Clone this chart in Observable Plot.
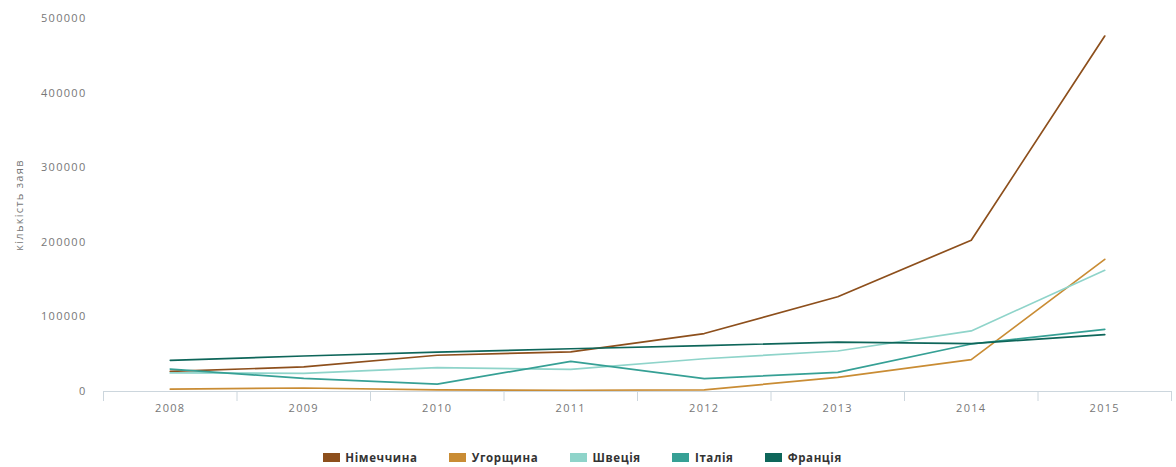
<!DOCTYPE html>
<html>
<head>
<meta charset="utf-8">
<script src="https://cdn.jsdelivr.net/npm/d3@7"></script>
<script src="https://cdn.jsdelivr.net/npm/@observablehq/plot@0.6"></script>
<style>
  html, body { margin: 0; padding: 0; background: #fff; }
  body { width: 1176px; height: 467px; overflow: hidden; font-family: "Open Sans", sans-serif; }
  #chart svg { display: block; }
</style>
</head>
<body>
<div id="chart"></div>
<script>
const years = [2008, 2009, 2010, 2011, 2012, 2013, 2014, 2015];
const countries = ["Німеччина", "Угорщина", "Швеція", "Італія", "Франція"];
const colors = ["#8d4f1c", "#c98c34", "#8fd4ca", "#36a095", "#0e665a"];
const germany = [26900, 33000, 48600, 53200, 77700, 127000, 202800, 476500];
const hungary = [3200, 4700, 2100, 1700, 2200, 18900, 42800, 177100];
const sweden  = [24900, 24300, 31900, 29700, 43900, 54300, 81200, 162500];
const italy   = [30100, 17600, 10000, 40300, 17300, 25700, 63700, 83200];
const france  = [41800, 47600, 52700, 57300, 61500, 66300, 64300, 76200];
const yTicks = [0, 100000, 200000, 300000, 400000, 500000];
const yLabel = "кількість заяв";

const series = [germany, hungary, sweden, italy, france];
const rows = [];
countries.forEach((c, i) => years.forEach((yr, j) => rows.push({country: c, year: yr, value: series[i][j]})));
const boundaries = years.map(y => y - 0.5).concat([years[years.length - 1] + 0.5]);

const plot = Plot.plot({
  width: 1176,
  height: 440,
  marginTop: 18,
  marginBottom: 49,
  marginLeft: 103,
  marginRight: 5,
  style: {fontFamily: "'Open Sans', sans-serif", fontSize: "11px", color: "#777", background: "#fff", letterSpacing: "1.3px"},
  x: {domain: [years[0] - 0.5, years[years.length - 1] + 0.5]},
  y: {domain: [0, 500000]},
  color: {domain: countries, range: colors},
  marks: [
    Plot.ruleY([0], {stroke: "#ccd6dd", strokeWidth: 1}),
    Plot.axisX(boundaries, {tickSize: 10, tickFormat: () => "", stroke: "#ccd6dd", label: null}),
    Plot.axisX(years, {tickSize: 0, tickPadding: 13, tickFormat: d => String(d), fill: "#777", label: null}),
    Plot.axisY(yTicks, {tickSize: 0, tickPadding: 17, tickFormat: d => String(d), fill: "#777",
      label: yLabel, labelAnchor: "center", labelOffset: 88, labelArrow: "none"}),
    Plot.line(rows, {x: "year", y: "value", z: "country", stroke: "country", strokeWidth: 1.7, curve: "linear"})
  ]
});
document.getElementById("chart").appendChild(plot);

const legend = Plot.legend({
  color: {domain: countries, range: colors},
  swatchWidth: 17,
  swatchHeight: 9,
  style: {justifyContent: "center", fontFamily: "'Open Sans', sans-serif", fontSize: "11.5px",
    fontWeight: "bold", color: "#333", letterSpacing: "0.6px", marginLeft: "0", marginTop: "7px", minHeight: "20px", columnGap: "20px"}
});
document.getElementById("chart").appendChild(legend);
</script>
</body>
</html>
